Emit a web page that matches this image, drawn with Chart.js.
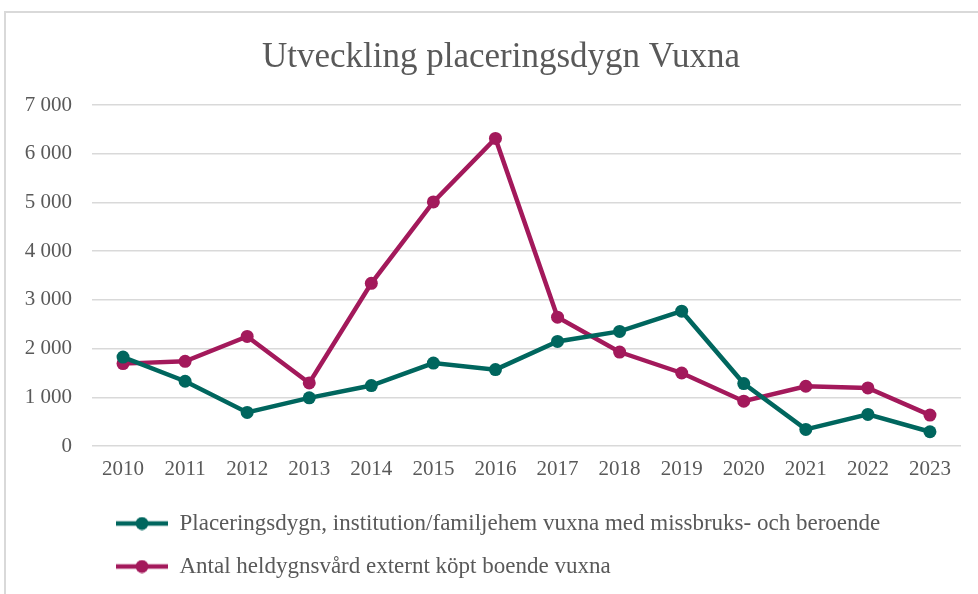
<!DOCTYPE html>
<html>
<head>
    <title>Utveckling placeringsdygn Vuxna</title>
    <script src="https://cdn.jsdelivr.net/npm/chart.js"></script>
    <style>
        body {
            margin: 0;
            overflow: hidden;
            background: #ffffff;
        }
        .frame {
            position: absolute;
            left: 4px;
            top: 11px;
            width: 1000px;
            height: 640px;
            border: 2px solid #d9d9d9;
        }
        /* the original chart is wider than the screenshot, so the canvas runs past the right edge */
        .wrap {
            position: absolute;
            left: 0;
            top: 0;
            width: 1002px;
            height: 588px;
        }
    </style>
</head>
<body>
    <div class="frame"></div>
    <div class="wrap"><canvas id="chart"></canvas></div>

    <script>
        // Data
        const years = ['2010', '2011', '2012', '2013', '2014', '2015', '2016',
                       '2017', '2018', '2019', '2020', '2021', '2022', '2023'];
        const placeringsdygn = [1826, 1329, 689, 988, 1241, 1703, 1568,
                                2147, 2352, 2767, 1282, 341, 648, 293];
        const heldygnsvard = [1691, 1738, 2249, 1294, 3340, 5010, 6313,
                              2644, 1929, 1499, 920, 1227, 1193, 634];
        const seriesNames = [
            'Placeringsdygn, institution/familjehem vuxna med missbruks- och beroende',
            'Antal heldygnsvård externt köpt boende vuxna'
        ];
        const colors = ['#00665e', '#a3195b'];
        const textColor = '#595959';
        const serif = "'Liberation Serif', 'DejaVu Serif', serif";

        // small line+dot swatch for the legend
        function legendSwatch(color) {
            const c = document.createElement('canvas');
            c.width = 56;
            c.height = 14;
            const g = c.getContext('2d');
            g.strokeStyle = color;
            g.lineWidth = 4.5;
            g.beginPath();
            g.moveTo(4, 7);
            g.lineTo(56, 7);
            g.stroke();
            g.fillStyle = color;
            g.beginPath();
            g.arc(30, 7, 6.5, 0, Math.PI * 2);
            g.fill();
            return c;
        }
        const swatches = colors.map(legendSwatch);

        const ctx = document.getElementById('chart').getContext('2d');
        new Chart(ctx, {
            type: 'line',
            data: {
                labels: years,
                datasets: [
                    {
                        label: seriesNames[0],
                        data: placeringsdygn,
                        borderColor: colors[0],
                        backgroundColor: colors[0],
                        borderWidth: 4.5,
                        pointRadius: 6.5,
                        pointBorderWidth: 0,
                        tension: 0
                    },
                    {
                        label: seriesNames[1],
                        data: heldygnsvard,
                        borderColor: colors[1],
                        backgroundColor: colors[1],
                        borderWidth: 4.5,
                        pointRadius: 6.5,
                        pointBorderWidth: 0,
                        tension: 0
                    }
                ]
            },
            options: {
                responsive: true,
                maintainAspectRatio: false,
                animation: false,
                layout: {
                    padding: { left: 0, right: 0, top: 0, bottom: 0 }
                },
                plugins: {
                    title: {
                        display: true,
                        text: 'Utveckling placeringsdygn Vuxna',
                        color: textColor,
                        font: { family: serif, size: 35, weight: 'normal' },
                        padding: { top: 37, bottom: 26 }
                    },
                    legend: {
                        position: 'bottom',
                        align: 'start',
                        fullSize: false,
                        labels: {
                            color: textColor,
                            font: { family: serif, size: 23 },
                            padding: 20,
                            usePointStyle: true,
                            pointStyleWidth: 56,
                            generateLabels: function(chart) {
                                const items = Chart.defaults.plugins.legend.labels.generateLabels(chart);
                                items.forEach((it, i) => { it.pointStyle = swatches[i]; });
                                return items;
                            }
                        }
                    },
                    tooltip: { enabled: false }
                },
                scales: {
                    x: {
                        offset: true,
                        grid: { display: false, drawTicks: false },
                        border: { display: false },
                        ticks: {
                            color: textColor,
                            font: { family: serif, size: 21 },
                            padding: 11,
                            maxRotation: 0
                        },
                        afterFit: function(scale) { scale.height = 46; }
                    },
                    y: {
                        min: 0,
                        max: 7000,
                        grid: { color: '#d9d9d9', lineWidth: 1.5, drawTicks: false },
                        border: { display: false },
                        ticks: {
                            stepSize: 1000,
                            color: textColor,
                            font: { family: serif, size: 21 },
                            padding: 20,
                            callback: v => String(v).replace(/\B(?=(\d{3})+(?!\d))/g, ' ')
                        },
                        afterFit: function(scale) { scale.width = 92; }
                    },
                    // empty right-hand margin, keeps the title centred like the original
                    yRight: {
                        position: 'right',
                        min: 0,
                        max: 1,
                        grid: { display: false },
                        border: { display: false },
                        ticks: { display: false },
                        afterFit: function(scale) { scale.width = 41; }
                    }
                }
            }
        });
    </script>
</body>
</html>
